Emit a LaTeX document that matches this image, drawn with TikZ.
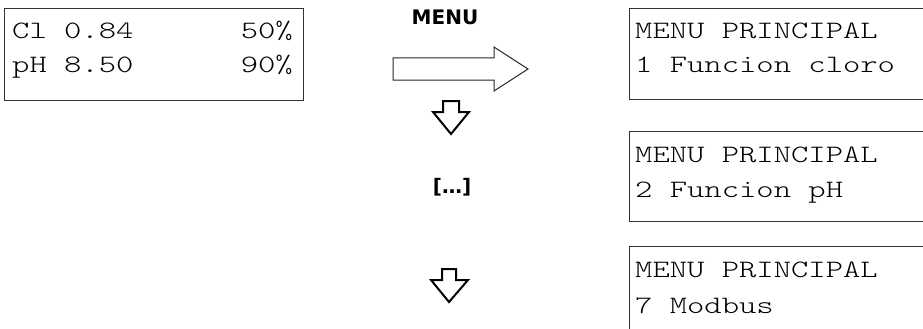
\documentclass[tikz,border=0pt]{standalone}
\usepackage{fontspec}
\newfontfamily\lcd[FakeStretch=1.32]{Latin Modern Mono Light}
\newfontfamily\labfont{DejaVu Sans}
\begin{document}
\begin{tikzpicture}[x=1pt,y=-1pt,
  lcdbox/.style={draw=black!80, line width=1pt},
  lcdtext/.style={inner sep=0pt, font=\lcd\fontsize{25}{25}\selectfont, text=black},
  bigarrow/.style={draw=black!85, line width=1pt, fill=white, line join=miter},
  downarrow/.style={draw=black, line width=2pt, fill=white, line join=miter},
  lab/.style={inner sep=0pt, font=\labfont\bfseries\fontsize{20}{20}\selectfont}]
\useasboundingbox (0,0) rectangle (923,329);
% left display
\draw[lcdbox] (4,9) rectangle (303,100);
\node[lcdtext, anchor=base west] (l1a) at (12,39) {Cl 0.84};
\node[lcdtext, anchor=base east] (l1b) at (293,39) {50\%};
\node[lcdtext, anchor=base west] (l2a) at (12,72) {pH 8.50};
\node[lcdtext, anchor=base east] (l2b) at (293,72) {90\%};
% right displays
\draw[lcdbox] (629,9) rectangle (960,99);
\node[lcdtext, anchor=base west] (r1a) at (635,38) {MENU PRINCIPAL};
\node[lcdtext, anchor=base west] (r1b) at (635,73) {1 Funcion cloro};
\draw[lcdbox] (629,131) rectangle (960,221);
\node[lcdtext, anchor=base west] (r2a) at (635,162) {MENU PRINCIPAL};
\node[lcdtext, anchor=base west] (r2b) at (635,197) {2 Funcion pH};
\draw[lcdbox] (629,246) rectangle (960,360);
\node[lcdtext, anchor=base west] (r3a) at (635,277) {MENU PRINCIPAL};
\node[lcdtext, anchor=base west] (r3b) at (635,313) {7 Modbus};
% labels
\node[lab] (menu) at (445,17) {MENU};
\node[lab] (dots) at (452,187) {[…]};
% arrows
\draw[bigarrow] (393,58) -- (494,58) -- (494,47) -- (528,69) -- (494,91) -- (494,80) -- (393,80) -- cycle;
\draw[downarrow] (443,101) -- (459,101) -- (459,112) -- (469,112) -- (451,134) -- (433,112) -- (443,112) -- cycle;
\draw[downarrow] (442,269) -- (456,269) -- (456,280) -- (468,280) -- (449,302) -- (431,280) -- (442,280) -- cycle;
\end{tikzpicture}
\end{document}
